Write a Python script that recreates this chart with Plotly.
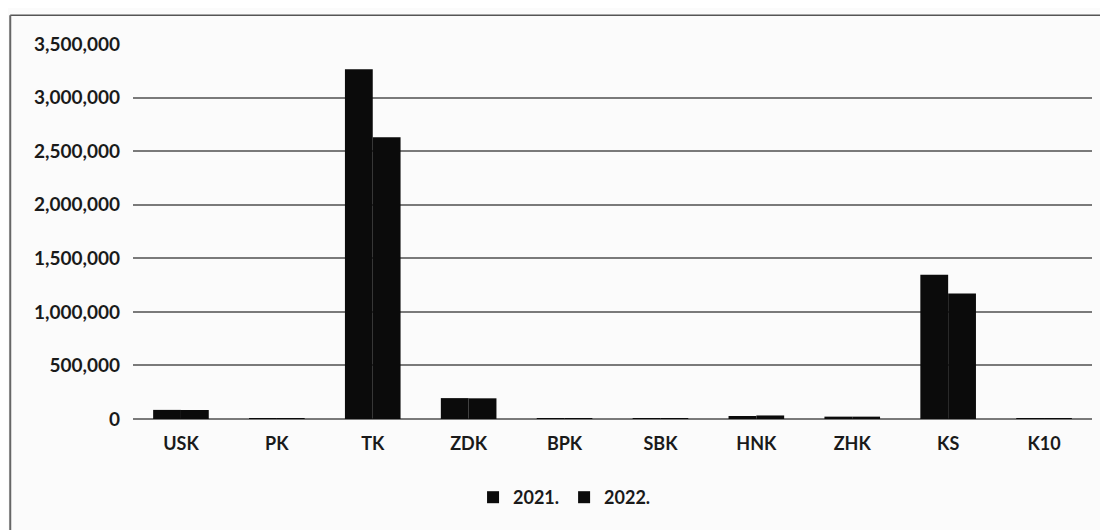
import plotly.graph_objects as go

categories = ["USK", "PK", "TK", "ZDK", "BPK", "SBK", "HNK", "ZHK", "KS", "K10"]
values_2021 = [85000, 2000, 3265000, 195000, 1500, 1000, 28000, 22000, 1347000, 1500]
values_2022 = [84000, 2000, 2630000, 193000, 1500, 1000, 33000, 22000, 1172000, 1500]
tick_vals = [0, 500000, 1000000, 1500000, 2000000, 2500000, 3000000, 3500000]

font_family = "Lato, Open Sans, sans-serif"

fig = go.Figure()
fig.add_trace(go.Bar(x=categories, y=values_2021, name="2021.",
                     marker=dict(color="#0b0b0b", line=dict(width=0))))
fig.add_trace(go.Bar(x=categories, y=values_2022, name="2022.",
                     marker=dict(color="#0b0b0b", line=dict(width=0))))

fig.update_layout(
    width=1108,
    height=530,
    barmode="group",
    bargap=0.42,
    bargroupgap=0,
    paper_bgcolor="#fbfbfb",
    plot_bgcolor="#fbfbfb",
    margin=dict(l=125, r=24, t=36, b=119),
    font=dict(family=font_family, size=18, color="#1a1a1a", weight="bold"),
    showlegend=True,
    legend=dict(orientation="h", x=0.45, xanchor="center", y=-0.16, yanchor="top",
                font=dict(size=18, color="#1a1a1a", weight="bold"),
                itemwidth=30, traceorder="normal"),
    xaxis=dict(showgrid=False, showline=False, ticks="", ticklabelstandoff=12,
               tickfont=dict(size=18)),
    yaxis=dict(range=[0, 3500000], tickvals=tick_vals, tickformat=",d",
               showgrid=True, gridcolor="#7a7a7a", gridwidth=2,
               zeroline=True, zerolinecolor="#7a7a7a", zerolinewidth=2,
               ticks="", ticklabelstandoff=12, tickfont=dict(size=19)),
)

# scanned frame around the chart
fig.add_shape(type="line", xref="paper", yref="paper",
              x0=-0.128, x1=1.04, y0=1.077, y1=1.077,
              line=dict(color="#555555", width=1.5))
fig.add_shape(type="line", xref="paper", yref="paper",
              x0=-0.128, x1=-0.128, y0=1.077, y1=-0.35,
              line=dict(color="#666666", width=2))

fig.write_html("out.html")
